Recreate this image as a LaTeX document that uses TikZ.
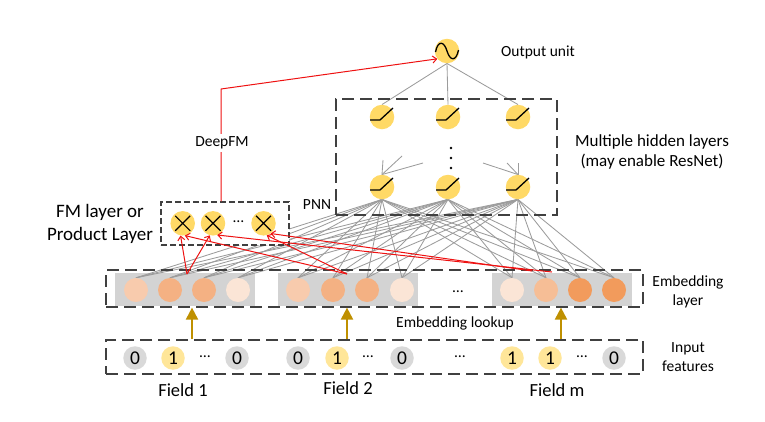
\documentclass[tikz,border=0pt]{standalone}
\usepackage{fontspec}
\setmainfont{Carlito}
\usetikzlibrary{arrows.meta,calc}
\pgfdeclarelayer{bg}
\pgfsetlayers{bg,main}
\definecolor{hid}{HTML}{FFD966}
\definecolor{inY}{HTML}{FFE699}
\definecolor{inG}{HTML}{D9D9D9}
\definecolor{eA}{HTML}{F8CBAD}
\definecolor{eB}{HTML}{F4B183}
\definecolor{eC}{HTML}{FBE5D6}
\definecolor{eD}{HTML}{F29B5C}
\definecolor{eE}{HTML}{F6BE96}
\definecolor{rectg}{HTML}{D3D3D3}
\definecolor{lineg}{HTML}{9C9C9C}
\definecolor{goldc}{HTML}{BF9000}
\definecolor{rline}{HTML}{EE1111}
\definecolor{dashc}{HTML}{404040}
\begin{document}
\begin{tikzpicture}[x=1pt,y=-1pt,
  txt/.style={font=\fontsize{15.5}{19}\selectfont, inner sep=0pt, align=center},
  midtxt/.style={font=\fontsize{17}{20}\selectfont, inner sep=0pt, align=center},
  bigtxt/.style={font=\fontsize{19}{23}\selectfont, inner sep=0pt, align=center},
  fieldtxt/.style={font=\fontsize{18.5}{22}\selectfont, inner sep=0pt},
  unit/.style={circle, fill=hid, minimum size=24.5pt, inner sep=0pt},
  emb/.style={circle, fill=#1, minimum size=24pt, inner sep=0pt},
  inp/.style={circle, fill=#1, minimum size=23.5pt, inner sep=0pt, font=\fontsize{19.5}{22}\selectfont},
  dbox/.style={draw=dashc, line width=1.2pt, dash pattern=on 12pt off 6pt, inner sep=0pt},
  fmbox/.style={draw=dashc, line width=1.1pt, dash pattern=on 6pt off 3pt, fill=white, inner sep=0pt},
  grect/.style={fill=rectg, minimum width=140pt, minimum height=33pt, inner sep=0pt},
  gl/.style={draw=lineg, line width=0.85pt},
  rl/.style={draw=rline, line width=1pt, -{Straight Barb[length=4pt,width=7pt]}},
  ga/.style={draw=goldc, line width=2pt, -{Triangle[length=12pt,width=12pt]}},
  sym/.style={line width=1.3pt, black},
  relu/.pic={\draw[sym] (-12,3) -- (-2,3) -- (11,-9);},
  cross/.pic={\draw[line width=1.2pt] (-7.5,-7.5) -- (7.5,7.5) (-7.5,7.5) -- (7.5,-7.5);},
  sigm/.pic={\draw[sym] (-11.5,1) .. controls (-9,-11) and (-3,-10) .. (0,0) .. controls (3,10) and (9,11) .. (11.5,-1);},
]
\useasboundingbox (0,0) rectangle (765,421);

% embedding gray rectangles
\begin{pgfonlayer}{bg}
\node[grect] (R1) at (185,289.5) {};
\node[grect] (R2) at (348,289.5) {};
\node[grect] (R3) at (562,289.5) {};
\end{pgfonlayer}

% embedding units
\foreach \x/\c [count=\i] in {136/eA,170/eB,204/eB,238/eC,298/eA,333/eB,367/eB,402/eC,512/eC,546/eE,580/eD,614/eD}
  \node[emb=\c] (E\i) at (\x,290) {};
\node[txt] (edots) at (458,292) {…};

% input units
\foreach \x/\c/\t [count=\i] in {135/inG/0,173/inY/1,237/inG/0,298/inG/0,337/inY/1,402/inG/0,512/inY/1,550/inY/1,614/inG/0}
  \node[inp=\c] (I\i) at (\x,358) {\t};
\node[txt] (id1) at (205,357) {…};
\node[txt] (id2) at (368,357) {…};
\node[txt] (id3) at (460,357) {…};
\node[txt] (id4) at (582,357) {…};

% hidden units
\foreach \x [count=\i] in {382,448,518} {
  \node[unit] (H\i) at (\x,117) {};
  \pic at (H\i) {relu};
}
\foreach \x [count=\i from 4] in {382,448,518} {
  \node[unit] (H\i) at (\x,187) {};
  \pic at (H\i) {relu};
}
\foreach \y in {148,158,168} \fill (451,\y) circle (1.3pt);

% output unit
\node[unit] (out) at (447,51) {};
\pic at (out) {sigm};

% product units
\node[unit] (P1) at (182.7,223.3) {};
\node[unit] (P2) at (213,223.3) {};
\node[unit] (P3) at (263.5,223.3) {};
\foreach \p in {P1,P2,P3} \pic at (\p) {cross};
\node[txt] (pdots) at (238.5,222) {…};

% gray connections and boxes
\begin{pgfonlayer}{bg}
\foreach \h in {4,5,6}
  \foreach \e in {1,...,12}
    \draw[gl] (H\h.south) -- (E\e.north);
\foreach \h in {1,2,3}
  \draw[gl] (out.south) -- (H\h.north);
\coordinate (a1) at (383,160);
\coordinate (a2) at (402,156);
\coordinate (a3) at (423,163);
\coordinate (b1) at (518,163);
\coordinate (b2) at (507,163);
\coordinate (b3) at (483,163);
\draw[gl] (a1) -- (H4.north);
\draw[gl] (a2) -- (H4.north);
\draw[gl] (a3) -- (H4.north);
\draw[gl] (b1) -- (H6.north);
\draw[gl] (b2) -- (H6.north);
\draw[gl] (b3) -- (H6.north);
\node[fmbox, minimum width=128pt, minimum height=43pt] (fmb) at (225,223.5) {};
\node[dbox, minimum width=221pt, minimum height=116pt] (hidb) at (446.5,157) {};
\node[dbox, minimum width=537pt, minimum height=37pt] (embb) at (374.5,288.5) {};
\node[dbox, minimum width=537pt, minimum height=34pt] (inb) at (374.5,357) {};
\end{pgfonlayer}

% gold lookup arrows
\coordinate (g1) at (192,320);
\coordinate (g2) at (347,320);
\coordinate (g3) at (561,320);
\foreach \g in {g1,g2,g3}
  \draw[ga] (\g |- inb.north) -- (\g |- embb.south);

% red FM arrows
\coordinate (s1) at (187,274);
\coordinate (s2) at (347,274);
\coordinate (s3) at (532,271);
\coordinate (s4) at (552,272);
\draw[rl] (s1) -- (P1.-100);
\draw[rl] (s1) -- (P2.-105);
\draw[rl] (s2) -- (P1.-80);
\draw[rl] (s2) -- (P3.-75);
\draw[rl] (s3) -- (P3.-55);
\draw[rl] (s4) -- (P2.-70);

% DeepFM connection
\coordinate (dc) at (221,89);
\draw[rl] (dc |- fmb.north) -- (dc) -- (out.219);
\node[txt, fill=white, inner sep=2.5pt] (dfm) at (222,143) {DeepFM};

% labels
\node[txt] (lout) at (538,52) {Output unit};
\node[midtxt] (lhid) at (652,152) {Multiple hidden layers\\(may enable ResNet)};
\node[txt] (lpnn) at (317,205) {PNN};
\node[bigtxt] (lfm) at (100,223.5) {FM layer or\\Product Layer};
\node[txt] (lemb) at (688,291.5) {Embedding\\layer};
\node[txt] (linp) at (688,357.5) {Input\\features};
\node[txt] (llook) at (455,323) {Embedding lookup};
\node[fieldtxt] (f1) at (183,390) {Field 1};
\node[fieldtxt] (f2) at (348,388) {Field 2};
\node[fieldtxt] (fm) at (557,390) {Field m};
\end{tikzpicture}
\end{document}
